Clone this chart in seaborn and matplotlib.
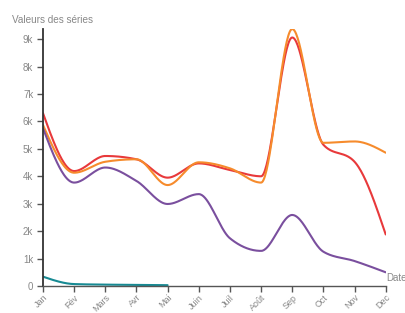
import numpy as np
import pandas as pd
import matplotlib
matplotlib.use("Agg")
import matplotlib.pyplot as plt
import seaborn as sns

months = ["Jan", "Fév", "Mars", "Avr", "Mai", "Juin", "Juil", "Août", "Sep", "Oct", "Nov", "Dec"]
red = [6300, 4190, 4740, 4620, 3950, 4470, 4230, 4000, 9060, 5150, 4530, 1880]
orange = [5870, 4130, 4530, 4620, 3680, 4510, 4290, 3770, 9370, 5220, 5270, 4860]
purple = [5750, 3770, 4320, 3830, 2990, 3350, 1740, 1280, 2590, 1250, 910, 500]
teal = [340, 70, 50, 40, 30]

series = {"A": red, "B": orange, "C": purple, "D": teal}
colors = {"A": "#e8393b", "B": "#f68b2c", "C": "#7a4f9e", "D": "#178a93"}


def monotone(y, n=40):
    y = np.asarray(y, float)
    x = np.arange(len(y), dtype=float)
    m = len(y)
    s = np.diff(y)
    t = np.zeros(m)
    for i in range(1, m - 1):
        s0, s1 = s[i - 1], s[i]
        p = (s0 + s1) / 2
        t[i] = (np.sign(s0) + np.sign(s1)) * min(abs(s0), abs(s1), 0.5 * abs(p))
    if m > 2:
        t[0] = (3 * s[0] - t[1]) / 2
        t[-1] = (3 * s[-1] - t[-2]) / 2
    else:
        t[:] = s[0]
    xs, ys = [], []
    for i in range(m - 1):
        u = np.linspace(0, 1, n, endpoint=(i == m - 2))
        h00 = 2 * u**3 - 3 * u**2 + 1
        h10 = u**3 - 2 * u**2 + u
        h01 = -2 * u**3 + 3 * u**2
        h11 = u**3 - u**2
        xs.append(x[i] + u)
        ys.append(h00 * y[i] + h10 * t[i] + h01 * y[i + 1] + h11 * t[i + 1])
    return np.concatenate(xs), np.concatenate(ys)


rows = []
for name, vals in series.items():
    xs, ys = monotone(vals)
    rows.append(pd.DataFrame({"x": xs, "y": ys, "s": name}))
df = pd.concat(rows, ignore_index=True)

sns.set_style("white")
plt.rcParams["font.family"] = ["Liberation Sans", "DejaVu Sans"]

fig = plt.figure(figsize=(4.05, 3.13), dpi=100)
ax = fig.add_axes([43 / 405, (313 - 286) / 313, (385.7 - 43) / 405, (286 - 29) / 313])
sns.lineplot(data=df, x="x", y="y", hue="s", palette=colors, linewidth=1.5,
             legend=False, ax=ax, sort=False, estimator=None)

ax.set_xlim(0, 11)
ax.set_ylim(0, max(orange))
ax.set_xticks(range(12))
ax.set_xticklabels(months, rotation=45, ha="right", va="top", rotation_mode="anchor",
                   fontsize=6.5)
ax.set_yticks(range(0, 10000, 1000))
ax.set_yticklabels(["0"] + [f"{k}k" for k in range(1, 10)])
ax.set_xlabel("")
ax.set_ylabel("")
for sp in ["top", "right"]:
    ax.spines[sp].set_visible(False)
ax.spines["left"].set_color("#333333")
ax.spines["left"].set_linewidth(1.3)
ax.spines["bottom"].set_color("#555555")
ax.spines["bottom"].set_linewidth(1.0)
ax.tick_params(axis="both", which="both", length=4.5, width=1, color="#555555",
               labelsize=7, labelcolor="#888888", pad=2.5, bottom=True, left=True)
ax.tick_params(axis="x", length=4, labelsize=6.5, pad=1)
ax.grid(False)

fig.text(12 / 405, 1 - 20 / 313, "Valeurs des séries", fontsize=7.2, color="#888888",
         ha="left", va="center")
fig.text(386 / 405, 1 - 278 / 313, "Date", fontsize=7, color="#888888",
         ha="left", va="center")

fig.savefig("out.png", dpi=100)
